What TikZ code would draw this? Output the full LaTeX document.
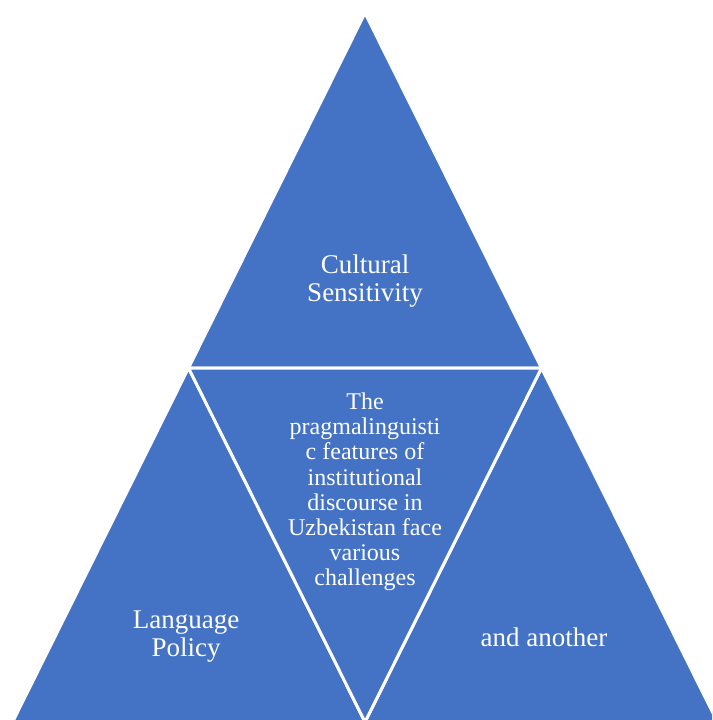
\documentclass[tikz,border=0pt]{standalone}
\usepackage{fontspec}
\setmainfont{Liberation Serif}
\usetikzlibrary{positioning}
\definecolor{pyrblue}{HTML}{4472C4}
\tikzstyle{facet}=[fill=pyrblue,draw=white,line width=3pt,line join=miter]
\tikzstyle{outerlabel}=[text=white,align=center,inner sep=0pt,font=\fontsize{27}{28}\selectfont]
\tikzstyle{innerlabel}=[text=white,align=center,inner sep=0pt,font=\fontsize{24}{25.2}\selectfont]

\begin{document}
\begin{tikzpicture}[x=1pt,y=-1pt]
  \useasboundingbox (0,0) rectangle (712,720);
  \clip (0,0) rectangle (712,720);

  \foreach \xpos/\ypos/\name in {365/13/top, 188.5/368/midl, 541.5/368/midr, 12.6/722/botl, 365/722/botm, 717.4/722/botr}
    \coordinate (\name) at (\xpos,\ypos);

  % four facets of the pyramid
  \path[facet] (top) -- (midl) -- (midr) -- cycle;
  \path[facet] (midl) -- (botl) -- (botm) -- cycle;
  \path[facet] (midr) -- (botm) -- (botr) -- cycle;
  \path[facet] (midl) -- (midr) -- (botm) -- cycle;

  \node[outerlabel] (culture) at (365,281) {Cultural\\Sensitivity};
  \node[innerlabel] (core) at (365,492) {The\\pragmalinguisti\\c features of\\institutional\\discourse in\\Uzbekistan face\\various\\challenges};
  \node[outerlabel] (policy) at (186,637) {Language\\Policy};
  \node[outerlabel] (another) at (544,637) {and another};
\end{tikzpicture}
\end{document}
